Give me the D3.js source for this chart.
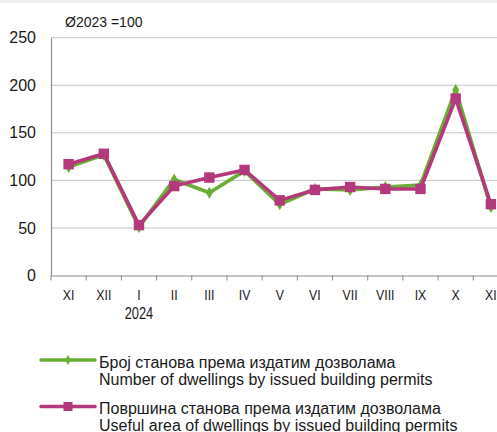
<!DOCTYPE html>
<html><head><meta charset="utf-8">
<script src="https://cdn.jsdelivr.net/npm/d3@7"></script>
<style>body{margin:0;background:#fff;overflow:hidden}svg{display:block;font-family:"Liberation Sans",Arial,sans-serif}</style>
</head><body><svg id="c" width="497" height="432"></svg>
<script>
const categories = ["XI","XII","I","II","III","IV","V","VI","VII","VIII","IX","X","XI"];
const dwellings = [114,127,51,101,87,110,75,91,90,93,95,195,72];
const area = [117,128,53,94,103,111,79,90,93,91,91,186,75];
const yTicks = [0,50,100,150,200,250];
const yearLabel = "2024";
const yearIndex = 2;
const noteText = "Ø2023 =100";
const legendLabels = [
  ["Број станова према издатим дозволама","Number of dwellings by issued building permits"],
  ["Површина станова према издатим дозволама","Useful area of dwellings by issued building permits"]
];

const svg = d3.select("#c");
svg.append("rect").attr("x",0).attr("y",0).attr("width",497).attr("height",3).attr("fill","#f0f0f0");

const pLeft = 51, pRight = 51 + 13*35.19, pTop = 37.7, pBottom = 275.5;
const x = d3.scaleBand().domain(d3.range(categories.length)).range([pLeft,pRight]);
const y = d3.scaleLinear().domain([0,250]).range([pBottom,pTop]);

// gridlines
svg.append("g").selectAll("line").data(yTicks.filter(d=>d>0)).join("line")
  .attr("x1",pLeft).attr("x2",pRight).attr("y1",d=>y(d)).attr("y2",d=>y(d))
  .attr("stroke","#c4c4c4").attr("stroke-width",1);

// y axis
const ya = svg.append("g").attr("transform",`translate(${pLeft},0)`)
  .call(d3.axisLeft(y).tickValues(yTicks).tickSize(0).tickPadding(15));
ya.select(".domain").attr("stroke","#8c8c8c").attr("stroke-width",1.2);
ya.selectAll("text").attr("font-size",16).attr("fill","#1a1a1a").attr("font-family","Liberation Sans, Arial, sans-serif");

// x axis
const xa = svg.append("g").attr("transform",`translate(0,${pBottom})`)
  .call(d3.axisBottom(x).tickFormat(i=>categories[i]).tickSize(0).tickPadding(0));
xa.select(".domain").attr("stroke","#8c8c8c").attr("stroke-width",1.2);
xa.selectAll(".tick text").attr("font-size",15).attr("fill","#1a1a1a").attr("font-family","Liberation Sans, Arial, sans-serif")
  .attr("y",0).attr("dy",0).attr("transform","translate(0,24.5) scale(0.82,1)");
svg.append("g").selectAll("line").data(d3.range(categories.length+1)).join("line")
  .attr("x1",i=>pLeft+i*x.step()).attr("x2",i=>pLeft+i*x.step())
  .attr("y1",pBottom).attr("y2",pBottom+5).attr("stroke","#8c8c8c").attr("stroke-width",1);
svg.append("text").attr("transform",`translate(${x(yearIndex)+x.bandwidth()/2},318.5) scale(0.8,1)`)
  .attr("text-anchor","middle").attr("font-size",16).attr("fill","#1a1a1a").text(yearLabel);

svg.append("text").attr("x",65).attr("y",27.3).attr("font-size",14).attr("fill","#1a1a1a").text(noteText);

const cx = i => x(i)+x.bandwidth()/2;
const line = d3.line().x((d,i)=>cx(i)).y(d=>y(d));
const green = "#6aae35", mag = "#b4387c";

svg.append("path").datum(dwellings).attr("d",line).attr("fill","none").attr("stroke",green).attr("stroke-width",3.8).attr("stroke-linejoin","miter");
svg.append("g").selectAll("path").data(dwellings).join("path")
  .attr("d",d3.symbol(d3.symbolDiamond,42)).attr("transform",(d,i)=>`translate(${cx(i)},${y(d)})`).attr("fill",green);

svg.append("path").datum(area).attr("d",line).attr("fill","none").attr("stroke",mag).attr("stroke-width",3.6).attr("stroke-linejoin","miter");
svg.append("g").selectAll("rect").data(area).join("rect")
  .attr("x",(d,i)=>cx(i)-5.2).attr("y",d=>y(d)-5.2).attr("width",10.4).attr("height",10.4).attr("fill",mag);

// legend
const lg = [{c:green,y:360,base:367.5,sym:"d"},{c:mag,y:406.5,base:413.5,sym:"s"}];
lg.forEach((l,k)=>{
  svg.append("line").attr("x1",41).attr("x2",95).attr("y1",l.y).attr("y2",l.y).attr("stroke",l.c).attr("stroke-width",3.5).attr("stroke-linecap","round");
  if(l.sym==="d") svg.append("path").attr("d",d3.symbol(d3.symbolDiamond,30)).attr("transform",`translate(68,${l.y})`).attr("fill",l.c);
  else svg.append("rect").attr("x",63.5).attr("y",l.y-4.5).attr("width",9).attr("height",9).attr("fill",l.c);
  legendLabels[k].forEach((t,j)=>{
    svg.append("text").attr("x",99).attr("y",l.base+j*17.8).attr("font-size",16).attr("fill","#1a1a1a").text(t);
  });
});
</script></body></html>
